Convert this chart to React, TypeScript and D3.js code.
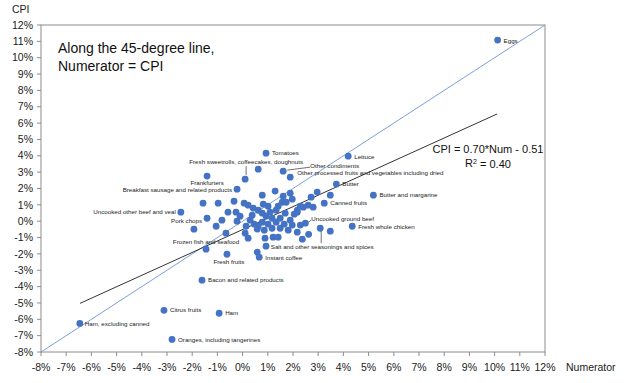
import React from "react";
import * as d3 from "d3";

// ---- Data (percent changes) ----
const labeledNames = [
  "Eggs", "Tomatoes", "Lettuce", "Fresh sweetrolls, coffeecakes, doughnuts",
  "Other condiments", "Other processed fruits and vegetables including dried",
  "Frankfurters", "Breakfast sausage and related products", "Butter",
  "Butter and margarine", "Canned fruits", "Uncooked other beef and veal",
  "Pork chops", "Uncooked ground beef", "Fresh whole chicken",
  "Frozen fish and seafood", "Salt and other seasonings and spices",
  "Instant coffee", "Fresh fruits", "Bacon and related products",
  "Citrus fruits", "Ham", "Ham, excluding canned", "Oranges, including tangerines",
];
const labeledNum = [10.12, 0.93, 4.19, 0.1, 1.61, 1.89, -1.41, -0.22, 3.72, 5.19, 3.24, -2.45, -1.41, 2.49, 4.35, -1.45, 3.08, 0.66, -0.62, -1.61, -3.12, -0.93, -6.46, -2.8];
const labeledCpi = [11.08, 4.16, 3.98, 2.57, 3.06, 2.69, 2.76, 1.96, 2.27, 1.59, 1.1, 0.55, 0.18, -0.12, -0.31, -1.71, -0.43, -2.2, -2.02, -3.61, -5.45, -5.63, -6.25, -7.23];

const otherNum = [0.62, 1.29, 1.89, -0.34, -1.57, -0.97, 0.06, 0.22, 0.82, 1.57, 1.73, 1.97, 0.42, 1.33, -0.26, -0.22, -1.93, -1.05, -0.66, 2.96, 2.72, 2.8, 2.41, 3.48, 2.17, 1.89, 1.69, 3.48, 2.17, 2.62, 2.37, 2.29, 0.1, 0.22, 0.89, 1.21, 1.41, 0.58, 0.93, 0.38, 0.58, 0.62, 0.78, 0.93, 1.09, 1.17, 1.33, 1.49, 1.65, 1.01, 0.78, 0.62, 0.86, 1.17, 1.49, 1.81, 1.97, 2.05, 0.3, 0.46, 0.14, 1.01, 1.41, 1.61, 0.78, -0.1, -0.58, -0.82, 2.17, 2.6, 2.29];
const otherCpi = [3.18, 1.84, 1.71, 1.22, 1.1, 1.1, 1.1, 0.98, 1.04, 1.16, 1.16, 1.35, 0.8, 0.67, 0.55, 0.0, -0.49, -0.31, -0.73, 1.78, 1.47, 0.86, 0.86, 1.59, 0.55, 0.06, 0.49, -0.61, -0.67, -0.8, -1.1, -0.24, -0.73, -1.04, -1.04, -0.98, -0.98, -1.9, -1.53, 0.37, -0.49, 0.67, 0.49, 0.31, 0.55, 0.18, -0.06, 0.18, -0.18, -0.18, -0.06, -0.31, -0.55, -0.43, -0.43, -0.55, -0.24, 0.43, 0.06, -0.18, -0.31, 0.92, 0.92, 1.53, 1.59, 0.31, 0.55, 0.06, 0.67, 0.98, 0.92];

const ticks = d3.range(-8, 13, 1);
const slope = 0.7;
const intercept = -0.51;
const fitRange = [-6.45, 10.1];
const equationText = "CPI = 0.70*Num - 0.51";
const r2Text = "0.40";

// ---- Label placement (layout, px) ----
type Place = { dx: number; dy: number; anchor: "start" | "middle" | "end"; leader?: [number, number, number, number] };
const labelPlacement: Record<string, Place> = {
  "Eggs": { dx: 6, dy: 1, anchor: "start" },
  "Tomatoes": { dx: 6, dy: 0, anchor: "start" },
  "Lettuce": { dx: 6, dy: 1, anchor: "start" },
  "Fresh sweetrolls, coffeecakes, doughnuts": { dx: 1, dy: -17, anchor: "middle", leader: [1, -4, 1, -13] },
  "Other condiments": { dx: 27, dy: -5, anchor: "start", leader: [4, -1, 27, -4] },
  "Other processed fruits and vegetables including dried": { dx: 7, dy: -4, anchor: "start" },
  "Frankfurters": { dx: 0, dy: 7, anchor: "middle" },
  "Breakfast sausage and related products": { dx: -5, dy: 1, anchor: "end" },
  "Butter": { dx: 6, dy: 0, anchor: "start" },
  "Butter and margarine": { dx: 6, dy: 0, anchor: "start" },
  "Canned fruits": { dx: 6, dy: 0, anchor: "start" },
  "Uncooked other beef and veal": { dx: -5, dy: 0, anchor: "end" },
  "Pork chops": { dx: -5, dy: 3, anchor: "end" },
  "Uncooked ground beef": { dx: 6, dy: -4, anchor: "start", leader: [3, -1, 6, -3] },
  "Fresh whole chicken": { dx: 6, dy: 1, anchor: "start" },
  "Frozen fish and seafood": { dx: 0, dy: -7, anchor: "middle" },
  "Salt and other seasonings and spices": { dx: 2, dy: 19, anchor: "middle", leader: [1, 3, 1, 15] },
  "Instant coffee": { dx: 6, dy: 1, anchor: "start" },
  "Fresh fruits": { dx: 2, dy: 8, anchor: "middle" },
  "Bacon and related products": { dx: 6, dy: 0, anchor: "start" },
  "Citrus fruits": { dx: 6, dy: 0, anchor: "start" },
  "Ham": { dx: 6, dy: 0, anchor: "start" },
  "Ham, excluding canned": { dx: 5, dy: 0, anchor: "start" },
  "Oranges, including tangerines": { dx: 6, dy: 0, anchor: "start" },
};

const W = 624;
const H = 383;
const left = 41, right = 545, top = 25, bottom = 352;

export default function App() {
  const x = d3.scaleLinear().domain([-8, 12]).range([left, right]);
  const y = d3.scaleLinear().domain([-8, 12]).range([bottom, top]);
  const fmt = (v: number) => `${v}%`;
  const line = d3.line<[number, number]>().x((d) => x(d[0])).y((d) => y(d[1]));
  const fitPts: [number, number][] = fitRange.map((v) => [v, slope * v + intercept]);
  const diagPts: [number, number][] = [[-8, -8], [12, 12]];
  const font = "'Liberation Sans', Arial, sans-serif";
  const txt = "#222";

  return (
    <svg width={W} height={H} style={{ position: "absolute", left: 0, top: 0, background: "#fff" }} fontFamily={font}>
      {/* frame */}
      <rect x={left} y={top} width={right - left} height={bottom - top} fill="none" stroke="#8c8c8c" strokeWidth={1} />
      {/* y ticks */}
      {ticks.map((t) => (
        <g key={"y" + t}>
          <line x1={left - 4} x2={left} y1={y(t)} y2={y(t)} stroke="#8c8c8c" />
          <text x={left - 8} y={y(t)} dy="0.35em" textAnchor="end" fontSize={10.5} fill={txt}>{fmt(t)}</text>
        </g>
      ))}
      {/* x ticks */}
      {ticks.map((t) => (
        <g key={"x" + t}>
          <line x1={x(t)} x2={x(t)} y1={bottom} y2={bottom + 4} stroke="#8c8c8c" />
          <text x={x(t)} y={bottom + 15} dy="0.35em" textAnchor="middle" fontSize={10.5} fill={txt}>{fmt(t)}</text>
        </g>
      ))}
      <text x={12} y={9} dy="0.35em" fontSize={10.5} fill={txt}>CPI</text>
      <text x={566} y={367} dy="0.35em" fontSize={10.5} fill={txt}>Numerator</text>

      {/* lines */}
      <path d={line(diagPts) || ""} stroke="#7c9fd9" strokeWidth={1} fill="none" />
      <path d={line(fitPts) || ""} stroke="#333" strokeWidth={1} fill="none" />

      {/* points */}
      {otherNum.map((v, i) => (
        <circle key={"o" + i} cx={x(v)} cy={y(otherCpi[i])} r={3.4} fill="#4472c4" />
      ))}
      {labeledNum.map((v, i) => (
        <circle key={"l" + i} cx={x(v)} cy={y(labeledCpi[i])} r={3.4} fill="#4472c4" />
      ))}

      {/* labels */}
      {labeledNames.map((name, i) => {
        const p = labelPlacement[name];
        const cx = x(labeledNum[i]);
        const cy = y(labeledCpi[i]);
        return (
          <g key={"t" + i}>
            {p.leader && (
              <line x1={cx + p.leader[0]} y1={cy + p.leader[1]} x2={cx + p.leader[2]} y2={cy + p.leader[3]} stroke="#333" strokeWidth={0.7} />
            )}
            <text x={cx + p.dx} y={cy + p.dy} dy="0.35em" textAnchor={p.anchor} fontSize={6.2} fill={txt}>{name}</text>
          </g>
        );
      })}

      {/* annotations */}
      <text x={58} y={48} dy="0.35em" fontSize={14} fill="#111">Along the 45-degree line,</text>
      <text x={58} y={66} dy="0.35em" fontSize={14} fill="#111">Numerator = CPI</text>
      <text x={488} y={149} dy="0.35em" textAnchor="middle" fontSize={11} fill="#111">{equationText}</text>
      <text x={488} y={163} dy="0.35em" textAnchor="middle" fontSize={11} fill="#111">
        R<tspan dy="-0.4em" fontSize={7}>2</tspan><tspan dy="0.4em"> = {r2Text}</tspan>
      </text>
    </svg>
  );
}
